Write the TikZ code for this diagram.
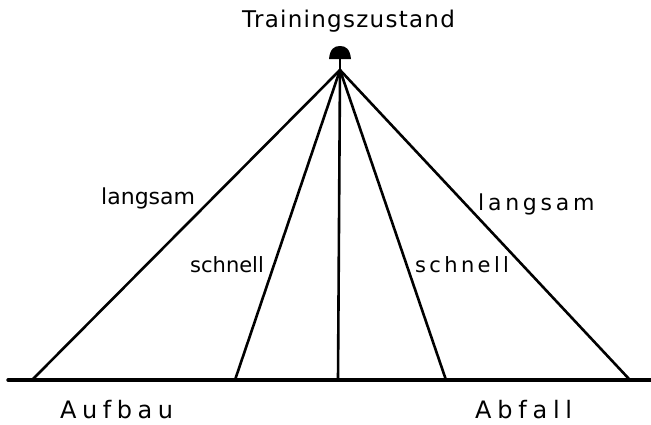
\documentclass[tikz,border=0pt]{standalone}
\usepackage{fontspec}
\setmainfont{DejaVu Sans}
\begin{document}
\begin{tikzpicture}[x=1pt,y=-1pt,
  ray/.style={line width=2.6pt,line cap=round},
  lbl/.style={inner sep=0pt,anchor=base west}]
\useasboundingbox (0,0) rectangle (651,424);
\coordinate (apex) at (340,70);
\coordinate (bl) at (8,380);
\coordinate (br) at (651,380);
\coordinate (b1) at (32,380);
\coordinate (b2) at (235,380);
\coordinate (b3) at (338,380);
\coordinate (b4) at (446,380);
\coordinate (b5) at (630,380);
\draw[line width=3.4pt,line cap=round] (bl) -- (br);
\draw[ray] (apex) -- (b1);
\draw[ray] (apex) -- (b2);
\draw[ray] (apex) -- (b3);
\draw[ray] (apex) -- (b4);
\draw[ray] (apex) -- (b5);
% marker at apex
\draw[line width=2.6pt] (apex) -- (340,57);
\fill (329,59) .. controls (330,49) and (334,46) .. (340,46) .. controls (346,46) and (350,49) .. (351,59) -- cycle;
\node[lbl,font=\fontsize{23}{26}\selectfont\addfontfeatures{LetterSpace=5.5}] (title) at (242,27) {Trainingszustand};
\node[lbl,font=\fontsize{22}{25}\selectfont] (l1) at (101,204) {langsam};
\node[lbl,font=\fontsize{21}{24}\selectfont] (s1) at (190,272) {schnell};
\node[lbl,font=\fontsize{21}{24}\selectfont\addfontfeatures{LetterSpace=16}] (s2) at (415,272) {schnell};
\node[lbl,font=\fontsize{22}{25}\selectfont\addfontfeatures{LetterSpace=17}] (l2) at (478,210) {langsam};
\node[lbl,font=\fontsize{24}{27}\selectfont\addfontfeatures{LetterSpace=23}] (auf) at (60,418) {Aufbau};
\node[lbl,font=\fontsize{24}{27}\selectfont\addfontfeatures{LetterSpace=24}] (abf) at (475,418) {Abfall};
\end{tikzpicture}
\end{document}
